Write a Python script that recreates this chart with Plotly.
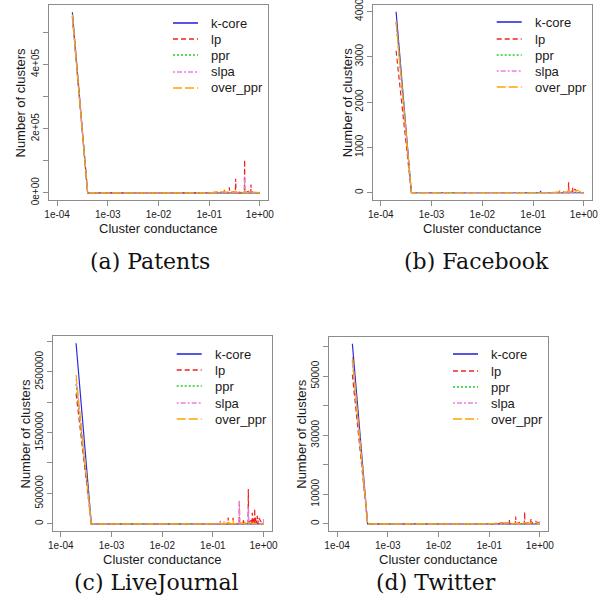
import plotly.graph_objects as go

W, H = 605, 607

# ---------------- data: (cluster conductance, number of clusters) ----------------
series_names = ["k-core", "lp", "ppr", "slpa", "over_ppr"]

# (a) Patents
kcore_pat = [(0.0002, 563000), (0.0004, 0), (1.0, 0)]
lp_pat = [(0.0002, 550000), (0.0004, 0), (0.1, 0), (0.12, 1000), (0.13, 0), (0.14, 2000),
          (0.15, 0), (0.167, 3000), (0.18, 0), (0.197, 0), (0.2, 9000), (0.203, 0),
          (0.246, 0), (0.25, 17000), (0.254, 0), (0.3, 3000), (0.328, 0), (0.333, 44000),
          (0.338, 0), (0.394, 0), (0.4, 6000), (0.406, 0), (0.493, 0), (0.5, 103000),
          (0.507, 0), (0.571, 3000), (0.592, 0), (0.6, 7000), (0.608, 0), (0.658, 0),
          (0.667, 26000), (0.676, 0), (0.7, 3000), (0.75, 0), (0.8, 3000), (0.9, 0),
          (1.0, 1000)]
ppr_pat = [(0.0002, 546000), (0.0004, 0), (1.0, 0)]
slpa_pat = [(0.0002, 552000), (0.0004, 0), (0.394, 0), (0.4, 4000), (0.406, 0), (0.493, 0),
            (0.5, 50000), (0.507, 0), (0.658, 0), (0.667, 8000), (0.676, 0), (1.0, 0)]
over_pat = [(0.0002, 556000), (0.0004, 0), (0.1, 0), (0.12, 2000), (0.13, 1000), (0.14, 3000),
            (0.15, 1500), (0.167, 4000), (0.18, 2000), (0.2, 5000), (0.22, 1000), (0.25, 6000),
            (0.28, 2000), (0.3, 1500), (0.333, 5000), (0.36, 1000), (0.4, 3000), (0.45, 0),
            (0.5, 4000), (0.55, 0), (0.6, 2000), (0.667, 3000), (0.7, 1000), (0.75, 2000),
            (0.8, 2000), (0.85, 1000), (0.9, 1000), (1.0, 0)]

# (b) Facebook
kcore_fb = [(0.0002, 3990), (0.0004, 0), (0.138, 0), (0.14, 40), (0.142, 0), (1.0, 0)]
lp_fb = [(0.0002, 3130), (0.0004, 0), (0.328, 0), (0.333, 50), (0.338, 0), (0.394, 0),
         (0.4, 30), (0.406, 0), (0.493, 0), (0.5, 230), (0.507, 0), (0.571, 30), (0.592, 0),
         (0.6, 110), (0.608, 0), (0.667, 80), (0.7, 40), (0.75, 50), (0.8, 30), (0.857, 20),
         (0.9, 0), (1.0, 0)]
ppr_fb = [(0.0002, 3760), (0.0004, 0), (1.0, 0)]
slpa_fb = [(0.0002, 3740), (0.0004, 0), (0.493, 0), (0.5, 70), (0.507, 0), (1.0, 0)]
over_fb = [(0.0002, 3780), (0.0004, 0), (0.2, 0), (0.25, 10), (0.333, 20), (0.4, 10),
           (0.5, 30), (0.6, 20), (0.667, 30), (0.7, 50), (0.75, 60), (0.8, 40), (0.857, 30),
           (0.9, 0), (1.0, 0)]

# (c) LiveJournal
kcore_lj = [(0.0002, 2970000), (0.0004, 0), (0.59, 0), (0.6, 30000), (0.61, 0), (0.74, 0),
            (0.75, 20000), (0.76, 0), (1.0, 0)]
lp_lj = [(0.0002, 2140000), (0.0004, 0), (0.197, 0), (0.2, 104000), (0.203, 0), (0.246, 0),
         (0.25, 100000), (0.254, 0), (0.328, 0), (0.333, 395000), (0.338, 0), (0.394, 0),
         (0.4, 82000), (0.406, 0), (0.46, 30000), (0.493, 0), (0.5, 572000), (0.507, 0),
         (0.54, 40000), (0.571, 60000), (0.592, 0), (0.6, 180000), (0.608, 0), (0.625, 80000),
         (0.658, 0), (0.667, 250000), (0.676, 0), (0.7, 100000), (0.72, 0), (0.75, 132000),
         (0.77, 0), (0.8, 100000), (0.833, 70000), (0.857, 66000), (0.9, 30000),
         (0.95, 20000), (1.0, 0)]
ppr_lj = [(0.0002, 2300000), (0.0004, 0), (1.0, 0)]
slpa_lj = [(0.0002, 2380000), (0.0004, 0), (0.138, 0), (0.14, 66000), (0.142, 0), (0.328, 0),
           (0.333, 380000), (0.338, 0), (0.493, 0), (0.5, 250000), (0.507, 0), (0.99, 0),
           (1.0, 85000)]
over_lj = [(0.0002, 2450000), (0.0004, 0), (0.1, 0), (0.12, 10000), (0.14, 0), (0.164, 0),
           (0.167, 50000), (0.17, 0), (0.2, 20000), (0.246, 0), (0.25, 70000), (0.254, 0),
           (0.333, 20000), (0.4, 10000), (0.425, 0), (0.43, 30000), (0.435, 0), (0.5, 20000),
           (0.571, 10000), (0.667, 10000), (0.75, 0), (1.0, 0)]

# (d) Twitter
kcore_tw = [(0.0002, 61000), (0.0004, 0), (1.0, 0)]
lp_tw = [(0.0002, 50500), (0.0004, 0), (0.15, 0), (0.2, 700), (0.22, 0), (0.246, 0),
         (0.25, 1300), (0.254, 0), (0.28, 300), (0.328, 0), (0.333, 2500), (0.338, 0),
         (0.4, 500), (0.493, 0), (0.5, 4000), (0.507, 0), (0.571, 300), (0.6, 600),
         (0.658, 0), (0.667, 1800), (0.676, 0), (0.7, 300), (0.75, 800), (0.8, 1000),
         (0.857, 700), (0.9, 500), (0.95, 0), (1.0, 0)]
ppr_tw = [(0.0002, 55000), (0.0004, 0), (1.0, 0)]
slpa_tw = [(0.0002, 55500), (0.0004, 0), (0.95, 0), (1.0, 800)]
over_tw = [(0.0002, 56500), (0.0004, 0), (0.1, 0), (0.12, 200), (0.15, 300), (0.18, 300),
           (0.2, 400), (0.25, 500), (0.3, 0), (0.333, 300), (0.4, 0), (0.5, 400), (0.6, 200),
           (0.667, 300), (0.75, 500), (0.857, 600), (0.9, 0), (1.0, 0)]

x_tickvals = [1e-4, 1e-3, 1e-2, 1e-1, 1]
x_ticktext = ["1e-04", "1e-03", "1e-02", "1e-01", "1e+00"]

y_tickvals_pat = [0, 100000, 200000, 300000, 400000, 500000]
y_ticktext_pat = ["0e+00", "", "2e+05", "", "4e+05", ""]
y_tickvals_fb = [0, 1000, 2000, 3000, 4000]
y_ticktext_fb = ["0", "1000", "2000", "3000", "4000"]
y_tickvals_lj = [0, 500000, 1000000, 1500000, 2000000, 2500000, 3000000]
y_ticktext_lj = ["0", "500000", "", "1500000", "", "2500000", ""]
y_tickvals_tw = [0, 10000, 20000, 30000, 40000, 50000, 60000]
y_ticktext_tw = ["0", "10000", "", "30000", "", "50000", ""]

captions = ["(a) Patents", "(b) Facebook", "(c) LiveJournal", "(d) Twitter"]

# ---------------- styles / layout ----------------
colors = ["#2b2bdc", "#f02020", "#22d022", "#e880e8", "#ffa500"]
dashes = ["solid", "5px,3px", "2px,2px", "2px,2px,5px,2px", "9px,3px"]

SANS = "Liberation Sans, Arial, sans-serif"
SERIF = "DejaVu Serif, serif"
FRAME = "#8c8c8c"
TXT = "#1a1a1a"

panels = [
    dict(series=[kcore_pat, lp_pat, ppr_pat, slpa_pat, over_pat],
         box=(49, 268, 5, 200), ytv=y_tickvals_pat, ytt=y_ticktext_pat,
         cap=(150, 262), ytitle_x=20),
    dict(series=[kcore_fb, lp_fb, ppr_fb, slpa_fb, over_fb],
         box=(372.7, 592, 4.5, 200), ytv=y_tickvals_fb, ytt=y_ticktext_fb,
         cap=(476, 262), ytitle_x=347),
    dict(series=[kcore_lj, lp_lj, ppr_lj, slpa_lj, over_lj],
         box=(52.7, 271.7, 336, 531), ytv=y_tickvals_lj, ytt=y_ticktext_lj,
         cap=(156, 582), ytitle_x=25),
    dict(series=[kcore_tw, lp_tw, ppr_tw, slpa_tw, over_tw],
         box=(329, 548, 336.5, 531), ytv=y_tickvals_tw, ytt=y_ticktext_tw,
         cap=(436, 582), ytitle_x=302),
]


def px(x):
    return x / W


def py(y):
    return 1 - y / H


fig = go.Figure()
shapes = []
annotations = []
layout_axes = {}

for i, p in enumerate(panels):
    n = "" if i == 0 else str(i + 1)
    xa, ya = "x" + n, "y" + n
    x0, x1, y0, y1 = p["box"]
    ymax = 0
    for name, pts, c, d in zip(series_names, p["series"], colors, dashes):
        xs = [a for a, _ in pts]
        ys = [b for _, b in pts]
        ymax = max(ymax, max(ys))
        fig.add_trace(go.Scatter(
            x=xs, y=ys, mode="lines", name=name,
            line=dict(color=c, width=1.2, dash=d),
            xaxis=xa, yaxis=ya, showlegend=False, hoverinfo="skip"))
    common = dict(showline=True, mirror=True, linecolor=FRAME, linewidth=1,
                  ticks="outside", ticklen=5, tickcolor=FRAME, tickwidth=1,
                  showgrid=False, zeroline=False, automargin=False,
                  ticklabeloverflow="allow",
                  tickfont=dict(family=SANS, size=10, color=TXT))
    layout_axes["xaxis" + n] = dict(
        type="log", domain=[px(x0), px(x1)], range=[-4.16, 0.16],
        anchor=ya, tickvals=x_tickvals, ticktext=x_ticktext, **common)
    layout_axes["yaxis" + n] = dict(
        domain=[py(y1), py(y0)], range=[-0.04 * ymax, 1.04 * ymax],
        anchor=xa, tickvals=p["ytv"], ticktext=p["ytt"], tickangle=-90,
        **common)

    # legend (R-style, no box)
    for k, (name, c, d) in enumerate(zip(series_names, colors, dashes)):
        ly = round(y0 + 18 + 16.2 * k)
        shapes.append(dict(type="line", xref="paper", yref="paper",
                           x0=px(x0 + 124), x1=px(x0 + 149), y0=py(ly), y1=py(ly),
                           line=dict(color=c, width=1.6, dash=d)))
        annotations.append(dict(x=px(x0 + 160), y=py(ly), xref="paper", yref="paper",
                                text=name, showarrow=False, xanchor="left",
                                yanchor="middle",
                                font=dict(family=SANS, size=13, color=TXT)))
    # axis titles
    annotations.append(dict(x=px((x0 + x1) / 2), y=py(y1 + 28), xref="paper",
                            yref="paper", text="Cluster conductance", showarrow=False,
                            xanchor="center", yanchor="middle",
                            font=dict(family=SANS, size=13, color=TXT)))
    annotations.append(dict(x=px(p["ytitle_x"]), y=py((y0 + y1) / 2), xref="paper",
                            yref="paper", text="Number of clusters", showarrow=False,
                            textangle=-90, xanchor="center", yanchor="middle",
                            font=dict(family=SANS, size=13, color=TXT)))
    # caption
    cx, cy = p["cap"]
    annotations.append(dict(x=px(cx), y=py(cy), xref="paper", yref="paper",
                            text=captions[i], showarrow=False, xanchor="center",
                            yanchor="middle",
                            font=dict(family=SERIF, size=22, color="#111111")))

fig.update_layout(
    width=W, height=H,
    margin=dict(l=0, r=0, t=0, b=0),
    paper_bgcolor="white", plot_bgcolor="white",
    shapes=shapes, annotations=annotations,
    **layout_axes,
)

fig.write_html("out.html",
               config={"displayModeBar": False, "staticPlot": True},
               post_script="document.body.style.margin='0px';"
                           "document.body.style.overflow='hidden';")
